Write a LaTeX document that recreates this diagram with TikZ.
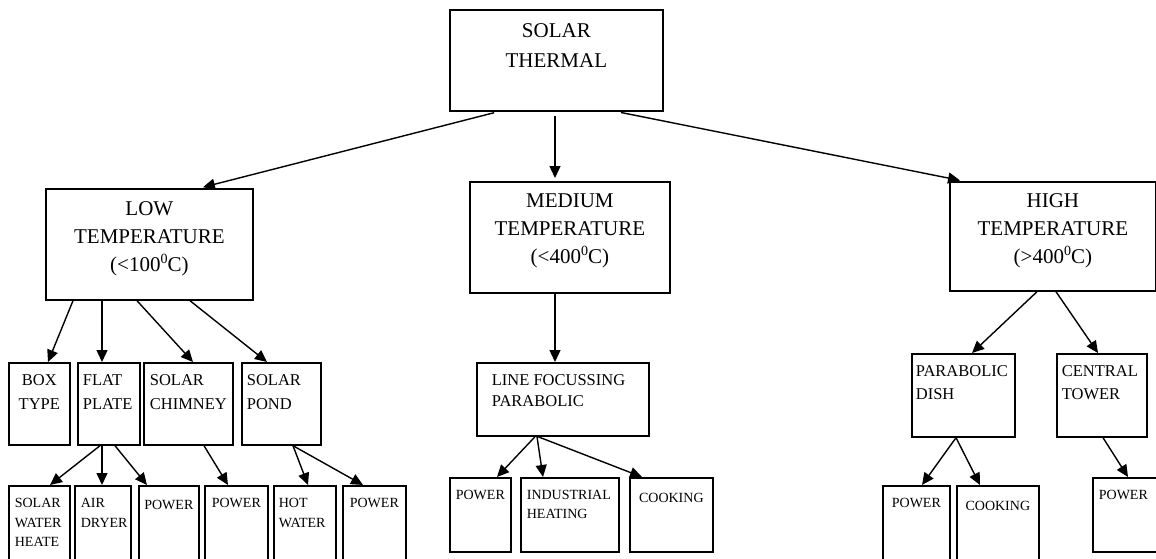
\documentclass[tikz,border=0pt]{standalone}
\usepackage{fontspec}
\setmainfont{Liberation Serif}
\usetikzlibrary{arrows.meta}

% box contents: width, height, first baseline, text
\newcommand\ctext[4]{\parbox[c][#2][t]{#1}{\centering\rule{0pt}{#3}#4}}
% left aligned with an inset: width, height, first baseline, inset, text
\newcommand\ltext[5]{\parbox[c][#2][t]{#1}{\raggedright\leftskip=#4\relax\rule{0pt}{#3}#5}}
% raised zero used as the degree sign
\newcommand\degzero{\raisebox{0.42em}{\fontsize{14}{14}\selectfont 0}}

\begin{document}
\begin{tikzpicture}[x=1pt,y=-1pt,
  bx/.style={draw=black, line width=1.7pt, inner sep=0pt, anchor=north west},
  big/.style={font=\fontsize{21}{28}\selectfont},
  mid/.style={font=\fontsize{16.5}{23.5}\selectfont},
  sml/.style={font=\fontsize{14}{19.5}\selectfont},
  arr/.style={line width=1.4pt, -{Triangle[length=12pt,width=11pt]}}]
\useasboundingbox (0,0) rectangle (1156,559);

% top level
\node[bx,font=\fontsize{21}{30}\selectfont] (st) at (449,9) {\ctext{213pt}{101pt}{27.7pt}{SOLAR\\THERMAL}};

% temperature ranges
\node[bx,big] (lo) at (45,188) {\ctext{207pt}{111pt}{27pt}{LOW\\TEMPERATURE\\(<100\degzero C)}};
\node[bx,big] (md) at (469,181) {\ctext{200pt}{111pt}{26pt}{MEDIUM\\TEMPERATURE\\(<400\degzero C)}};
\node[bx,big] (hi) at (949,181) {\ctext{206pt}{109pt}{26pt}{HIGH\\TEMPERATURE\\(>400\degzero C)}};

% collector types
\node[bx,mid] (bt) at (8,362)   {\ctext{61pt}{82pt}{23pt}{BOX\\TYPE}};
\node[bx,mid] (fp) at (77,362)  {\ltext{62pt}{82pt}{23pt}{5pt}{FLAT\\PLATE}};
\node[bx,mid] (sc) at (143,362) {\ltext{89pt}{82pt}{23pt}{6pt}{SOLAR\\CHIMNEY}};
\node[bx,mid] (sp) at (241,362) {\ltext{79pt}{82pt}{23pt}{5pt}{SOLAR\\POND}};
\node[bx,mid,font=\fontsize{16.5}{21}\selectfont] (lf) at (476,362) {\ltext{172pt}{73pt}{23pt}{15pt}{LINE FOCUSSING\\PARABOLIC}};
\node[bx,mid,font=\fontsize{16.5}{23}\selectfont] (pd) at (911,353) {\ltext{103pt}{83pt}{23pt}{4pt}{PARABOLIC\\DISH}};
\node[bx,mid,font=\fontsize{16.5}{23}\selectfont] (ct) at (1056,353) {\ltext{90pt}{83pt}{23pt}{5pt}{CENTRAL\\TOWER}};

% applications
\node[bx,sml] (sw) at (8,485)   {\ltext{61pt}{80pt}{21.7pt}{6pt}{SOLAR\\WATER\\HEATE}};
\node[bx,sml] (ad) at (74,485)  {\ltext{56pt}{80pt}{21.7pt}{6pt}{AIR\\DRYER}};
\node[bx,sml] (p1) at (138,485) {\ctext{60pt}{80pt}{24pt}{POWER}};
\node[bx,sml] (p2) at (204,485) {\ctext{63pt}{80pt}{21.7pt}{POWER}};
\node[bx,sml] (hw) at (273,485) {\ltext{62pt}{80pt}{21.7pt}{5pt}{HOT\\WATER}};
\node[bx,sml] (p3) at (342,485) {\ctext{63pt}{80pt}{21.7pt}{POWER}};
\node[bx,sml] (p4) at (449,477) {\ctext{61pt}{74pt}{22pt}{POWER}};
\node[bx,sml,font=\fontsize{14}{18.5}\selectfont] (ih) at (520,477) {\ltext{98pt}{74pt}{22pt}{6pt}{INDUSTRIAL\\HEATING}};
\node[bx,sml] (ck1) at (629,477) {\ctext{83pt}{74pt}{25pt}{COOKING}};
\node[bx,sml] (p5) at (882,485) {\ctext{67pt}{80pt}{22pt}{POWER}};
\node[bx,sml] (ck2) at (956,485) {\ctext{82pt}{80pt}{25pt}{COOKING}};
\node[bx,sml] (p6) at (1092,477) {\ltext{66pt}{74pt}{22pt}{6pt}{POWER}};

% connectors
\draw[arr, shorten <=4pt, shorten >=3pt] ([xshift=49pt]st.south west) -- ([xshift=155pt]lo.north west);
\draw[arr, shorten <=4pt, shorten >=3pt] ([xshift=106pt]st.south west) -- ([xshift=86pt]md.north west);
\draw[arr, shorten <=4pt, shorten >=3pt] ([xshift=168pt]st.south west) -- ([xshift=14pt]hi.north west);

\draw[arr] ([xshift=28pt]lo.south west) -- ([xshift=40pt]bt.north west);
\draw[arr] ([xshift=57pt]lo.south west) -- ([xshift=25pt]fp.north west);
\draw[arr] ([xshift=92pt]lo.south west) -- ([xshift=50pt]sc.north west);
\draw[arr] ([xshift=145pt]lo.south west) -- ([xshift=26pt]sp.north west);

\draw[arr] ([xshift=23pt]fp.south west) -- ([xshift=42pt]sw.north west);
\draw[arr] ([xshift=25pt]fp.south west) -- ([xshift=28pt]ad.north west);
\draw[arr] ([xshift=38pt]fp.south west) -- ([xshift=9pt]p1.north west);
\draw[arr] ([xshift=61pt]sc.south west) -- ([xshift=24pt]p2.north west);
\draw[arr] ([xshift=52pt]sp.south west) -- ([xshift=35pt]hw.north west);
\draw[arr] ([xshift=52pt]sp.south west) -- ([xshift=21pt]p3.north west);

\draw[arr] ([xshift=86pt]md.south west) -- ([xshift=79pt]lf.north west);
\draw[arr] ([xshift=59pt]lf.south west) -- ([xshift=48pt]p4.north west);
\draw[arr] ([xshift=61pt]lf.south west) -- ([xshift=23pt]ih.north west);
\draw[arr] ([xshift=62pt]lf.south west) -- ([xshift=13pt]ck1.north west);

\draw[arr] ([xshift=88pt]hi.south west) -- ([xshift=61pt]pd.north west);
\draw[arr] ([xshift=107pt]hi.south west) -- ([xshift=42pt]ct.north west);
\draw[arr] ([xshift=45pt]pd.south west) -- ([xshift=40pt]p5.north west);
\draw[arr] ([xshift=45pt]pd.south west) -- ([xshift=24pt]ck2.north west);
\draw[arr] ([xshift=47pt]ct.south west) -- ([xshift=36pt]p6.north west);
\end{tikzpicture}
\end{document}
